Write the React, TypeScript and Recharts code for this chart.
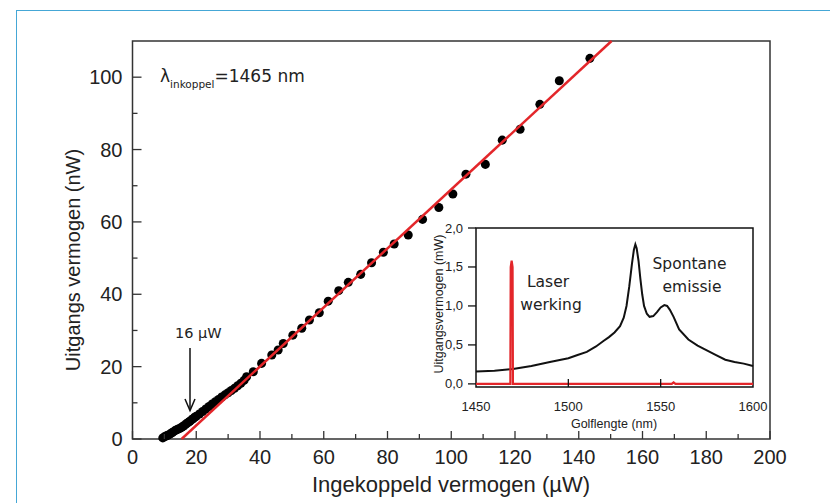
import { ScatterChart, Scatter, XAxis, YAxis, ReferenceArea } from "recharts";

// main curve: coupled-in power (µW) vs output power (nW)
const inputPower = [
  9.5, 10, 10.5, 11, 11.5, 12, 12.5, 13, 13.5, 14, 14.5, 15, 15.5, 16, 16.5, 17, 17.5, 18, 18.5, 19, 19.5, 20,
  21, 22, 23, 24, 25, 26, 27, 28, 29, 30, 31, 32, 33, 34, 35,
  35.8, 37.9, 40.5, 43.7, 45.7, 47.3, 50.3, 53.1, 55.5, 58.6, 61.4, 64.7, 67.7, 71.6, 75.0, 78.7, 82.1, 86.5,
  91.0, 96.1, 100.5, 104.6, 110.7, 116.0, 121.6, 127.8, 133.9, 143.5,
];
const outputPower = [
  0.3, 0.6, 0.8, 1.0, 1.2, 1.5, 1.8, 2.1, 2.4, 2.6, 2.8, 3.0, 3.3, 3.6, 3.9, 4.3, 4.6, 4.9, 5.3, 5.6, 6.0, 6.3,
  6.9, 7.6, 8.3, 9.0, 9.7, 10.3, 10.9, 11.6, 12.2, 12.8, 13.4, 14.0, 14.7, 15.4, 16.2,
  17.2, 18.6, 20.9, 23.2, 24.6, 26.4, 28.7, 30.6, 32.9, 34.9, 38.1, 41.0, 43.3, 45.5, 48.7, 51.6, 53.9, 56.4,
  60.7, 64.0, 67.7, 73.2, 75.9, 82.6, 85.6, 92.5, 99.0, 105.2,
];
const fitInput = [15.4, 150.3];
const fitOutput = [0, 110];

const mainXTicks = [0, 10, 20, 30, 40, 50, 60, 70, 80, 90, 100, 110, 120, 130, 140, 150, 160, 170, 180, 190, 200];
const mainYTicks = [0, 10, 20, 30, 40, 50, 60, 70, 80, 90, 100];

// inset: spectrum
const wavelength = [
  1450, 1460, 1470, 1480, 1490, 1500, 1505, 1510, 1515, 1519, 1522, 1525, 1528, 1530, 1531.5, 1533, 1534.5,
  1535.5, 1536.3, 1537, 1538, 1539, 1540, 1541, 1542.5, 1544, 1546, 1548, 1550, 1552, 1553.5, 1555, 1557,
  1560, 1565, 1570, 1575, 1580, 1585, 1590, 1595, 1600,
];
const spectrum = [
  0.16, 0.17, 0.19, 0.23, 0.28, 0.33, 0.37, 0.41, 0.48, 0.55, 0.6, 0.66, 0.74, 0.85, 1.0, 1.25, 1.55,
  1.72, 1.79, 1.74, 1.58, 1.35, 1.15, 1.0, 0.9, 0.86, 0.87, 0.92, 0.98, 1.01, 1.0, 0.95, 0.86,
  0.7, 0.57, 0.49, 0.43, 0.37, 0.31, 0.28, 0.26, 0.23,
];
const laserWavelength = [1450, 1468.6, 1468.8, 1469.3, 1469.8, 1470, 1556, 1557, 1558, 1600];
const laserPower = [0, 0, 1.5, 1.58, 1.5, 0, 0, 0.02, 0, 0];

const insetXTicks = [1450, 1500, 1550, 1600];
const insetYTicks = [0, 0.5, 1, 1.5, 2];

const measured = inputPower.map((x, i) => ({ x, y: outputPower[i] }));
const fit = fitInput.map((x, i) => ({ x, y: fitOutput[i] }));
const spectrumData = wavelength.map((x, i) => ({ x, y: spectrum[i] }));
const laserData = laserWavelength.map((x, i) => ({ x, y: laserPower[i] }));

const SANS = "'Liberation Sans', Arial, sans-serif";
const DEJAVU = "'DejaVu Sans', Verdana, sans-serif";
const INK = "#222";

const NoDot = () => <g />;

function MainXTick(props: any) {
  const { x, y, payload } = props;
  const major = payload.value % 20 === 0;
  return (
    <g>
      <line x1={x} x2={x} y1={y} y2={y - (major ? 8 : 5)} stroke="#333" strokeWidth={1.3} />
      {major && (
        <text x={x} y={y + 25} textAnchor="middle" fontSize={20} fontFamily={SANS} fill={INK}>
          {payload.value}
        </text>
      )}
    </g>
  );
}

function MainYTick(props: any) {
  const { x, y, payload } = props;
  const major = payload.value % 20 === 0;
  return (
    <g>
      <line x1={x} x2={x + (major ? 9 : 5)} y1={y} y2={y} stroke="#333" strokeWidth={1.3} />
      {major && (
        <text x={x - 10} y={y + 7} textAnchor="end" fontSize={20} fontFamily={SANS} fill={INK}>
          {payload.value}
        </text>
      )}
    </g>
  );
}

function InsetXTick(props: any) {
  const { x, y, payload } = props;
  const inner = payload.value > 1450 && payload.value < 1600;
  return (
    <g>
      {inner && <line x1={x} x2={x} y1={y} y2={y - 8} stroke="#111" strokeWidth={1.3} />}
      <text x={x} y={y + 24} textAnchor="middle" fontSize={13} fontFamily={SANS} fill={INK}>
        {payload.value}
      </text>
    </g>
  );
}

function InsetYTick(props: any) {
  const { x, y, payload } = props;
  return (
    <g>
      <line x1={x - 8} x2={x} y1={y} y2={y} stroke="#111" strokeWidth={1.3} />
      <text x={x - 13} y={y + 4.5} textAnchor="end" fontSize={13} fontFamily={SANS} fill={INK}>
        {payload.value.toFixed(1).replace(".", ",")}
      </text>
    </g>
  );
}

const layer = { position: "absolute" as const, left: 0, top: 0 };

export default function App() {
  return (
    <div style={{ position: "absolute", left: 0, top: 0, width: 830, height: 503, background: "#fff", overflow: "hidden" }}>
      <div
        style={{
          position: "absolute", left: 16, top: 10, width: 900, height: 600,
          borderLeft: "1.5px solid #45a7d6", borderTop: "1.5px solid #45a7d6",
        }}
      />

      <div style={layer}>
        <ScatterChart width={830} height={503} margin={{ top: 41, right: 60, bottom: 34, left: 72.5 }}>
          <XAxis
            type="number" dataKey="x" domain={[0, 200]} ticks={mainXTicks} interval={0}
            tickSize={0} tickMargin={0} tickLine={false} axisLine={false} height={30}
            tick={(p: any) => <MainXTick {...p} />}
          />
          <YAxis
            type="number" dataKey="y" domain={[0, 110]} ticks={mainYTicks} interval={0}
            tickSize={0} tickMargin={0} tickLine={false} axisLine={false} width={60}
            tick={(p: any) => <MainYTick {...p} />}
          />
          <ReferenceArea x1={0} x2={200} y1={0} y2={110} fill="none" stroke="#333" strokeWidth={1.5} />
          <Scatter data={measured} fill="#000" isAnimationActive={false} />
          <Scatter
            data={fit} shape={NoDot} line={{ stroke: "#e3262a", strokeWidth: 2.5 }}
            isAnimationActive={false}
          />
        </ScatterChart>
      </div>

      <div style={layer}>
        <ScatterChart width={830} height={503} margin={{ top: 228, right: 77, bottom: 86, left: 416 }}>
          <XAxis
            type="number" dataKey="x" domain={[1450, 1600]} ticks={insetXTicks} interval={0}
            tickSize={0} tickMargin={0} tickLine={false} axisLine={false} height={30}
            tick={(p: any) => <InsetXTick {...p} />}
          />
          <YAxis
            type="number" dataKey="y" domain={[-0.04, 2]} ticks={insetYTicks} interval={0}
            tickSize={0} tickMargin={0} tickLine={false} axisLine={false} width={60}
            tick={(p: any) => <InsetYTick {...p} />}
          />
          <ReferenceArea x1={1450} x2={1600} y1={-0.04} y2={2} fill="none" stroke="#111" strokeWidth={1.5} />
          <Scatter
            data={spectrumData} shape={NoDot} line={{ stroke: "#111", strokeWidth: 2 }}
            isAnimationActive={false}
          />
          <Scatter
            data={laserData} shape={NoDot} line={{ stroke: "#e3262a", strokeWidth: 2.2 }}
            isAnimationActive={false}
          />
        </ScatterChart>
      </div>

      <svg width={830} height={503} style={{ ...layer, pointerEvents: "none" }}>
        <text transform="rotate(-90, 80, 260)" x={80} y={260} textAnchor="middle" fontSize={20} fontFamily={SANS} fill={INK}>
          Uitgangs vermogen (nW)
        </text>
        <text x={451} y={492} textAnchor="middle" fontSize={22} fontFamily={SANS} fill={INK}>
          Ingekoppeld vermogen (µW)
        </text>

        <text x={160} y={82} fontSize={17} fontFamily={DEJAVU} fill={INK}>
          λ<tspan fontSize={10.5} dy={6}>inkoppel</tspan>
          <tspan dy={-6}>=1465 nm</tspan>
        </text>

        <text x={175} y={338} fontSize={14.5} fontFamily={DEJAVU} fill={INK}>16 µW</text>
        <line x1={190} x2={190} y1={348} y2={410} stroke="#111" strokeWidth={1.5} />
        <polyline points="185,399 190,410.5 195,399" fill="none" stroke="#111" strokeWidth={1.5} />

        <text x={548} y={287} textAnchor="middle" fontSize={15.5} fontFamily={DEJAVU} fill={INK}>Laser</text>
        <text x={551} y={310} textAnchor="middle" fontSize={15.5} fontFamily={DEJAVU} fill={INK}>werking</text>
        <text x={689.5} y={269} textAnchor="middle" fontSize={15.5} fontFamily={DEJAVU} fill={INK}>Spontane</text>
        <text x={692} y={292} textAnchor="middle" fontSize={15.5} fontFamily={DEJAVU} fill={INK}>emissie</text>

        <text transform="rotate(-90, 442.5, 304)" x={442.5} y={304} textAnchor="middle" fontSize={12.5} fontFamily={SANS} fill={INK}>
          Uitgangsvermogen (mW)
        </text>
        <text x={614} y={428} textAnchor="middle" fontSize={12.5} fontFamily={SANS} fill={INK}>
          Golflengte (nm)
        </text>
      </svg>
    </div>
  );
}
